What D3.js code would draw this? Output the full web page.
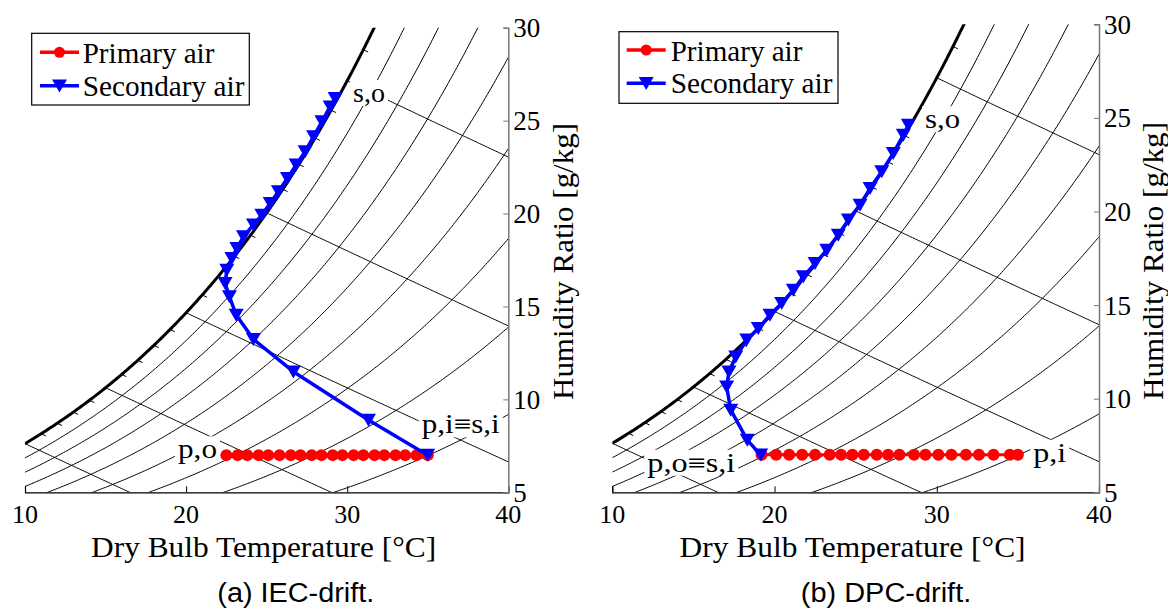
<!DOCTYPE html>
<html>
<head>
<meta charset="utf-8">
<script src="https://cdn.jsdelivr.net/npm/d3@7"></script>
<style>
  html, body { margin: 0; padding: 0; background: #fff; }
  svg { display: block; }
</style>
</head>
<body>
<svg id="chart" width="1168" height="609"></svg>
<script>
// ---- chart data ----
const tempTicks = [10, 20, 30, 40];
const ratioTicks = [5, 10, 15, 20, 25, 30];
const rhLevels = [0.1, 0.2, 0.3, 0.4, 0.5, 0.6, 0.7, 0.8, 0.9];
const wetBulbTemps = [10, 15, 20, 25, 30];
const wetBulbTickTemps = [11, 12, 13, 14, 16, 17, 18, 19, 21, 22, 23, 24, 26, 27, 28, 29, 31];

// (a) IEC-drift
const iecPrimaryT = [22.5, 23.2, 23.8, 24.5, 25.1, 25.8, 26.5, 27.1, 27.8, 28.4, 29.1, 29.7, 30.4, 31.0, 31.7, 32.3, 33.0, 33.6, 34.3, 35.0];
const iecPrimaryW = [7.0, 7.0, 7.0, 7.0, 7.0, 7.0, 7.0, 7.0, 7.0, 7.0, 7.0, 7.0, 7.0, 7.0, 7.0, 7.0, 7.0, 7.0, 7.0, 7.0];
const iecSecondaryT = [35.0, 31.32, 26.66, 24.18, 23.11, 22.69, 22.42, 22.53, 22.84, 23.15, 23.56, 24.18, 24.70, 25.22, 25.73, 26.29, 26.83, 27.39, 27.91, 28.43, 28.94, 29.25];
const iecSecondaryW = [7.0, 8.89, 11.49, 13.23, 14.54, 15.53, 16.25, 16.96, 17.59, 18.13, 18.76, 19.39, 19.92, 20.55, 21.18, 21.90, 22.62, 23.33, 24.14, 24.95, 25.75, 26.20];

// (b) DPC-drift
const dpcPrimaryT = [19.2, 20.1, 20.9, 21.7, 22.5, 23.4, 24.1, 24.8, 25.5, 26.3, 27.0, 27.7, 28.6, 29.3, 30.1, 30.9, 31.8, 32.6, 33.5, 34.5, 35.0];
const dpcPrimaryW = [7.0, 7.0, 7.0, 7.0, 7.0, 7.0, 7.0, 7.0, 7.0, 7.0, 7.0, 7.0, 7.0, 7.0, 7.0, 7.0, 7.0, 7.0, 7.0, 7.0, 7.0];
const dpcSecondaryT = [19.15, 18.32, 17.30, 17.05, 17.19, 17.61, 18.29, 19.00, 19.72, 20.44, 21.16, 21.78, 22.50, 23.22, 23.93, 24.55, 25.27, 25.89, 26.61, 27.32, 27.94, 28.25];
const dpcSecondaryW = [7.0, 7.79, 9.40, 10.64, 11.44, 12.24, 13.14, 13.76, 14.47, 15.10, 15.81, 16.52, 17.23, 17.94, 18.74, 19.55, 20.35, 21.24, 22.13, 23.11, 24.09, 24.62];

const seriesNames = ["Primary air", "Secondary air"];

// ---- psychrometric relations (sea-level pressure) ----
const P_ATM = 101.325; // kPa
const satPressure = t => 0.61094 * Math.exp(17.625 * t / (t + 243.04));
const humidityRatio = (t, rh) => { const pv = rh * satPressure(t); return 622 * pv / (P_ATM - pv); }; // g/kg
const enthalpy = (t, w) => 1.006 * t + w / 1000 * (2501 + 1.86 * t);
const ratioAtEnthalpy = (h, t) => 1000 * (h - 1.006 * t) / (2501 + 1.86 * t);

const svg = d3.select("#chart");
svg.append("rect").attr("width", 1168).attr("height", 609).attr("fill", "#fff");

const SERIF = "'Liberation Serif', 'Times New Roman', serif";
const SANS = "'Liberation Sans', Arial, sans-serif";
const TRI = "M-7.5,-6.3L7.5,-6.3L0,6.7Z";

function drawPanel(cfg) {
  const g = svg.append("g");
  const x = d3.scaleLinear().domain([10, 40]).range([cfg.left, cfg.right]);
  const y = d3.scaleLinear().domain([5, 30]).range([cfg.bottom, cfg.top]);
  const line = d3.line().x(d => x(d[0])).y(d => y(d[1]));

  const clipId = "clip-" + cfg.id;
  g.append("clipPath").attr("id", clipId).append("rect")
    .attr("x", x(10)).attr("y", y(30))
    .attr("width", x(40) - x(10)).attr("height", y(5) - y(30));

  const grid = g.append("g").attr("clip-path", `url(#${clipId})`)
    .attr("fill", "none").attr("stroke", "#000");

  const temps = d3.range(100, 401).map(k => k / 10);

  // relative humidity curves
  rhLevels.forEach(rh => {
    grid.append("path")
      .attr("d", line(temps.map(t => [t, humidityRatio(t, rh)])))
      .attr("stroke-width", 1);
  });

  // constant wet-bulb (enthalpy) lines
  wetBulbTemps.forEach(tw => {
    const h = enthalpy(tw, humidityRatio(tw, 1));
    const pts = temps.filter(t => t >= tw).map(t => [t, ratioAtEnthalpy(h, t)]);
    grid.append("path").attr("d", line(pts)).attr("stroke-width", 1);
  });

  // short wet-bulb ticks along the saturation curve
  wetBulbTickTemps.forEach(tw => {
    const h = enthalpy(tw, humidityRatio(tw, 1));
    const pts = [[tw, ratioAtEnthalpy(h, tw)], [tw + 0.3, ratioAtEnthalpy(h, tw + 0.3)]];
    grid.append("path").attr("d", line(pts)).attr("stroke-width", 1);
  });

  // saturation curve
  grid.append("path")
    .attr("d", line(temps.map(t => [t, humidityRatio(t, 1)])))
    .attr("stroke-width", 3);

  // bottom axis (temperature)
  const xAxis = g.append("g").attr("transform", `translate(0,${y(5)})`)
    .call(d3.axisTop(x).tickValues(tempTicks).tickSize(6).tickFormat(""));
  xAxis.select(".domain").attr("stroke", "#000").attr("stroke-width", 1.2);
  xAxis.selectAll(".tick line").attr("stroke", "#000");
  tempTicks.forEach(t => {
    g.append("text").attr("x", x(t)).attr("y", cfg.bottom + 31)
      .attr("text-anchor", "middle").attr("font-family", SERIF).attr("font-size", 26)
      .text(t);
  });

  // right axis (humidity ratio)
  const yAxis = g.append("g").attr("transform", `translate(${x(40)},0)`)
    .call(d3.axisLeft(y).tickValues(ratioTicks).tickSize(5).tickFormat(""));
  yAxis.select(".domain").attr("stroke", "#777").attr("stroke-width", 1.5);
  yAxis.selectAll(".tick line").attr("stroke", "#777");
  ratioTicks.forEach(w => {
    g.append("text").attr("x", x(40) + 5).attr("y", y(w) + 9.5)
      .attr("font-family", SERIF).attr("font-size", 27).text(w);
  });

  // axis titles
  g.append("text").attr("x", cfg.xTitleX).attr("y", 557)
    .attr("text-anchor", "middle").attr("font-family", SERIF).attr("font-size", 29)
    .attr("textLength", cfg.xTitleLen).attr("lengthAdjust", "spacingAndGlyphs")
    .text("Dry Bulb Temperature [°C]");
  g.append("text")
    .attr("transform", `translate(${cfg.yTitleX},${cfg.yTitleY}) rotate(-90)`)
    .attr("text-anchor", "middle").attr("font-family", SERIF).attr("font-size", 30)
    .attr("textLength", cfg.yTitleLen).attr("lengthAdjust", "spacingAndGlyphs")
    .text("Humidity Ratio [g/kg]");

  // data series
  const prim = d3.zip(cfg.primT, cfg.primW);
  const sec = d3.zip(cfg.secT, cfg.secW);
  g.append("path").attr("d", line(prim)).attr("fill", "none")
    .attr("stroke", "#ff0000").attr("stroke-width", 3);
  g.selectAll(null).data(prim).join("circle")
    .attr("cx", d => x(d[0])).attr("cy", d => y(d[1])).attr("r", 6)
    .attr("fill", "#ff0000");
  g.append("path").attr("d", line(sec)).attr("fill", "none")
    .attr("stroke", "#0000ff").attr("stroke-width", 3.5).attr("stroke-linejoin", "round");
  g.selectAll(null).data(sec).join("path")
    .attr("d", TRI)
    .attr("transform", d => `translate(${x(d[0])},${y(d[1])})`)
    .attr("fill", "#0000ff");

  // state labels with white backing
  cfg.labels.forEach(lb => {
    const lg = g.append("g");
    const bg = lg.append("rect").attr("fill", "#fff");
    const tx = lg.append("text").attr("x", lb.x).attr("y", lb.y)
      .attr("font-family", SERIF).attr("font-size", 27)
      .attr("textLength", lb.w).attr("lengthAdjust", "spacingAndGlyphs")
      .text(lb.text);
    const bb = tx.node().getBBox();
    bg.attr("x", bb.x - 3).attr("y", bb.y + 2).attr("width", bb.width + 6).attr("height", bb.height - 4);
  });

  // legend
  const L = cfg.legend;
  g.append("rect").attr("x", L.x).attr("y", L.y).attr("width", L.w).attr("height", L.h)
    .attr("fill", "#fff").attr("stroke", "#000").attr("stroke-width", 1.2);
  const rows = [
    {name: seriesNames[0], color: "#ff0000", mark: "circle", ly: L.row1, ty: L.text1, tl: 131.7},
    {name: seriesNames[1], color: "#0000ff", mark: "tri", ly: L.row2, ty: L.text2, tl: 161.7}
  ];
  rows.forEach(r => {
    g.append("line").attr("x1", L.lineX0).attr("x2", L.lineX1).attr("y1", r.ly).attr("y2", r.ly)
      .attr("stroke", r.color).attr("stroke-width", 3.5);
    const cx = (L.lineX0 + L.lineX1) / 2;
    if (r.mark === "circle") {
      g.append("circle").attr("cx", cx).attr("cy", r.ly).attr("r", 5.5).attr("fill", r.color);
    } else {
      g.append("path").attr("d", TRI).attr("transform", `translate(${cx},${r.ly})`).attr("fill", r.color);
    }
    g.append("text").attr("x", L.textX).attr("y", r.ty)
      .attr("font-family", SERIF).attr("font-size", 29)
      .attr("textLength", r.tl).attr("lengthAdjust", "spacingAndGlyphs")
      .text(r.name);
  });

  // caption
  g.append("text").attr("x", cfg.capX).attr("y", 602)
    .attr("text-anchor", "middle").attr("font-family", SANS).attr("font-size", 27)
    .attr("textLength", cfg.capLen).attr("lengthAdjust", "spacingAndGlyphs")
    .text(cfg.caption);
}

drawPanel({
  id: "iec", left: 25, right: 508.3, top: 27.7, bottom: 492.3,
  primT: iecPrimaryT, primW: iecPrimaryW, secT: iecSecondaryT, secW: iecSecondaryW,
  xTitleX: 263.6, xTitleLen: 345, yTitleX: 573, yTitleY: 261.5, yTitleLen: 277,
  labels: [
    {text: "s,o", x: 353, y: 102, w: 32},
    {text: "p,o", x: 178, y: 458.3, w: 39},
    {text: "p,i\u2261s,i", x: 421.7, y: 433.3, w: 78}
  ],
  legend: {x: 31.7, y: 33.3, w: 217.6, h: 71.7, lineX0: 40, lineX1: 79, row1: 52.3, row2: 85.7,
           textX: 82.7, text1: 62.7, text2: 95.7},
  caption: "(a) IEC-drift.", capX: 295.8, capLen: 157
});

drawPanel({
  id: "dpc", left: 612.3, right: 1099, top: 24.3, bottom: 492.3,
  primT: dpcPrimaryT, primW: dpcPrimaryW, secT: dpcSecondaryT, secW: dpcSecondaryW,
  xTitleX: 852.6, xTitleLen: 346, yTitleX: 1163, yTitleY: 261, yTitleLen: 278,
  labels: [
    {text: "s,o", x: 925, y: 128.3, w: 35},
    {text: "p,o\u2261s,i", x: 647.3, y: 471.7, w: 88},
    {text: "p,i", x: 1033.3, y: 461.7, w: 33}
  ],
  legend: {x: 619, y: 31.7, w: 219, h: 71.6, lineX0: 626.7, lineX1: 665.7, row1: 50, row2: 83.3,
           textX: 670.7, text1: 60.7, text2: 93.3},
  caption: "(b) DPC-drift.", capX: 886, capLen: 170.5
});
</script>
</body>
</html>
